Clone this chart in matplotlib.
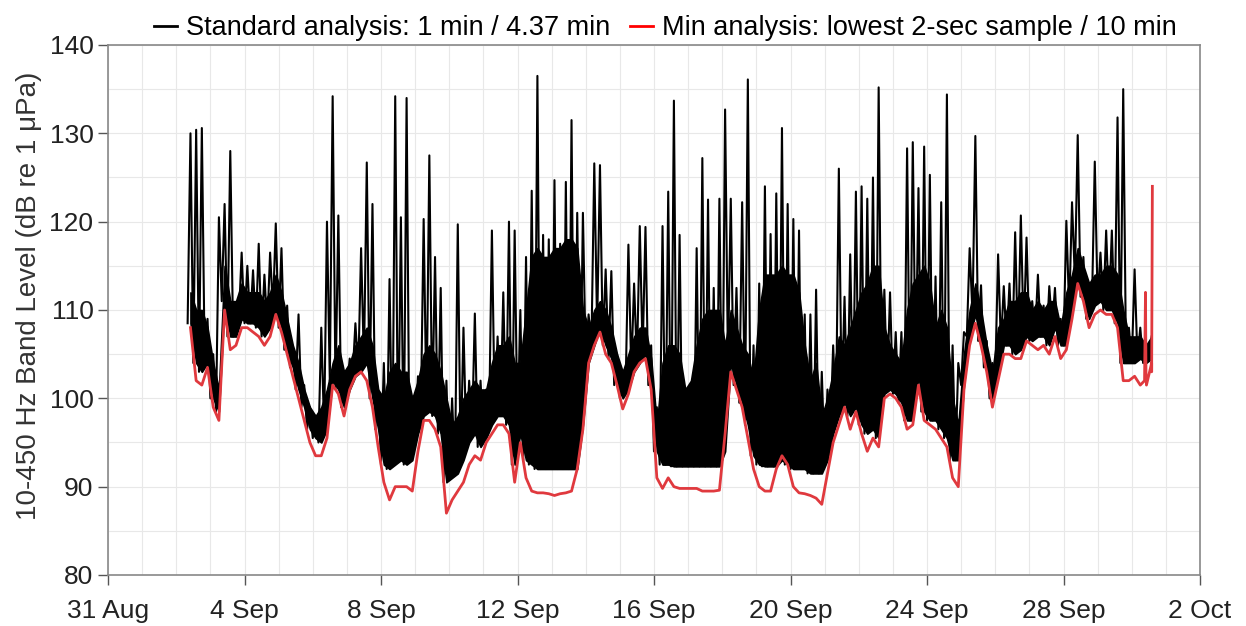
import numpy as np
import pandas as pd
import matplotlib
matplotlib.use("Agg")
import matplotlib.pyplot as plt
import matplotlib.dates as mdates
from matplotlib.lines import Line2D
from matplotlib.ticker import MultipleLocator

# ---------------- data (4-hour bins starting 2 Sep 08:00) ----------------
# Standard analysis: per-bin minimum, top of dense band, and peak
blk_lo = [
    108.5, 104, 103, 104,                 # Sep 2 (08h..)
    100, 98.5, 111, 107, 107, 109,        # Sep 3
    108.5, 108.5, 108, 107, 108, 110,     # Sep 4
    108, 105.5, 103.5, 101, 99, 96.5,     # Sep 5
    95.5, 95, 96.5, 102, 101, 99,         # Sep 6
    101, 102.5, 103, 104, 100, 96.5,      # Sep 7
    92.5, 92, 92.5, 93, 92.5, 93,         # Sep 8
    96, 98, 98.5, 98, 96, 90.5,           # Sep 9
    91, 91.5, 93, 95, 96, 94.5,           # Sep 10
    95.5, 97, 98, 98, 97, 92.5,           # Sep 11
    96, 93, 92.5, 92, 92, 92,             # Sep 12
    92, 92, 92, 92, 92, 97,               # Sep 13
    104, 106, 108, 106, 104.5, 101.5,     # Sep 14
    100, 101, 103, 104, 105, 101.5,       # Sep 15
    94, 92.5, 92.5, 92.3, 92.3, 92.3,     # Sep 16
    92.3, 92.3, 92.3, 92.3, 92.3, 92.3,   # Sep 17
    94, 104, 101.5, 99.5, 97, 93.5,       # Sep 18
    92.5, 92.3, 92.3, 92.3, 93, 92.5,     # Sep 19
    92, 92, 92, 91.5, 91.5, 91.5,         # Sep 20
    93, 96, 98, 99.5, 98, 99,             # Sep 21
    97, 96, 96.5, 95.5, 100.5, 101,       # Sep 22
    100.5, 99.5, 97.5, 97.5, 102.5, 98.5, # Sep 23
    97.5, 97.5, 96.5, 95.5, 93, 93,       # Sep 24
    101.5, 107, 109.5, 106.5, 103.5, 100, # Sep 25
    102.5, 106, 106, 105, 105.5, 107,     # Sep 26
    106.5, 107, 107, 106, 108, 106,       # Sep 27
    106, 110, 113.5, 111.5, 109, 110.5,   # Sep 28
    111, 110, 110, 108.5, 104, 104,       # Sep 29
    104, 104.5, 104, 104.5,               # Sep 30
]
blk_body = [
    112, 110, 110, 108,                   # Sep 2
    104, 101, 115, 111, 111, 113,         # Sep 3
    112, 112, 112, 111, 112, 114,         # Sep 4
    112, 109, 106, 104, 101, 99,          # Sep 5
    98, 99, 101, 104, 106, 103,           # Sep 6
    104, 106, 107, 108, 106, 101,         # Sep 7
    100, 103, 104, 103, 103, 100,         # Sep 8
    102, 105, 106, 105, 103, 100,         # Sep 9
    97, 98, 100, 101, 102, 101,           # Sep 10
    101, 104, 106, 106, 107, 104,         # Sep 11
    104, 110, 116, 117, 116, 116,         # Sep 12
    117, 117, 118, 118, 117, 110,         # Sep 13
    108, 110, 111, 110, 108, 105,         # Sep 14
    103, 105, 107, 108, 108, 104.5,       # Sep 15
    97, 104, 106, 106, 105, 101,          # Sep 16
    102, 106, 109, 110, 110, 110,         # Sep 17
    106, 110, 108, 106, 105, 102,         # Sep 18
    110, 114, 114, 114, 115, 114,         # Sep 19
    114, 112, 106, 102, 104, 98,          # Sep 20
    100, 103, 107, 106, 108, 110,         # Sep 21
    112, 113, 115, 115, 108, 106,         # Sep 22
    105, 104, 110, 113, 114, 115,         # Sep 23
    113, 108, 110, 108, 100, 97,          # Sep 24
    105, 110, 113, 110, 106, 103,         # Sep 25
    108, 109, 111, 111, 112, 112,         # Sep 26
    110, 111, 110, 111, 111, 108,         # Sep 27
    112, 114, 117, 115, 113, 114,         # Sep 28
    114, 115, 115, 114, 110, 107,         # Sep 29
    107, 107, 106, 107,                   # Sep 30
]
blk_peak = [
    130, 130.4, 130.6, 109,
    105, 120.5, 122, 128, 110, 116.5,
    115, 114.5, 117.5, 114, 116.5, 119.8,
    117, 110.5, 105.5, 109.5, 101.5, 99,
    98, 108, 120, 134.2, 120.7, 103,
    104.5, 108.5, 117, 126.7, 122, 101,
    104, 113.5, 134.2, 120.5, 134, 100,
    102.5, 120.3, 127.5, 116, 112.5, 102,
    100, 119.7, 108, 102, 109.6, 102,
    101, 119, 107, 112, 120, 119,
    110, 116, 123.5, 136.5, 118.5, 118,
    124.7, 117.5, 124.5, 131.5, 121, 121,
    109.5, 126.6, 126.4, 114.6, 114.4, 105,
    102.5, 117.4, 113, 119.5, 119.4, 106,
    99, 119.5, 123.4, 133.7, 118.5, 100.5,
    99.5, 117, 127.2, 122.5, 112.5, 122.6,
    132.7, 122.6, 112.5, 122.2, 136.1, 106,
    113, 124, 118.6, 123.2, 130.6, 122,
    120.3, 119, 109.5, 109.5, 112.3, 103,
    101, 106, 126, 111.5, 116.3, 123.4,
    124, 122.6, 125, 135.2, 112.3, 112,
    107.5, 107.5, 128.3, 129, 123.8, 128.5,
    125.3, 113.8, 122.2, 134.4, 106, 104,
    107.5, 117, 129.7, 112.8, 106.5, 104,
    116.3, 112.7, 113, 118.8, 120.7, 118.2,
    111, 114, 110.5, 112.7, 112.5, 109,
    120.1, 122.2, 129.8, 116, 113, 126.8,
    116.5, 119, 119, 131.8, 135, 108,
    114.6, 108, 106, 107,
]
# Min analysis (lowest 2-sec sample / 10 min)
red_vals = [
    108, 102, 101.5, 103.5,
    99, 97.5, 110, 105.5, 106, 108,
    108, 107.5, 107, 106, 107, 109.5,
    107.5, 105, 102.5, 100, 97.5, 95,
    93.5, 93.5, 95.5, 101.5, 100.5, 98,
    101, 102.5, 103, 102, 99, 94.5,
    90.5, 88.5, 90, 90, 90, 89.5,
    94, 97.5, 97.5, 96.5, 94.5, 87,
    88.5, 89.5, 90.5, 92.5, 93.5, 93,
    95, 96, 97, 97, 96, 90.5,
    95, 91, 89.5, 89.3, 89.3, 89.2,
    89, 89.2, 89.3, 89.5, 92, 96.5,
    104, 106, 107.5, 105, 104, 101.5,
    98.8, 100.5, 103, 104, 104.5, 101,
    91, 89.8, 91, 90, 89.8, 89.8,
    89.8, 89.8, 89.5, 89.5, 89.5, 89.6,
    96, 103, 101, 99, 95.5, 92,
    90, 89.5, 89.5, 92, 93.5, 92.5,
    90, 89.3, 89.2, 89, 88.7, 88,
    91.5, 95, 97, 99, 96.5, 98.5,
    96, 94, 95.5, 94.5, 100, 100.5,
    100, 99, 96.5, 97, 101.5, 97.5,
    97, 96.5, 95.5, 94.5, 91, 90,
    101, 106, 108.5, 106, 103, 99,
    102, 105, 105, 104.5, 104.5, 106.5,
    106, 105.5, 106, 105, 107, 104.5,
    105.5, 109, 113, 111, 108, 109.5,
    110, 109.5, 109.5, 108, 102, 102,
    102.5, 101.5, 103, 104,
]
red_extra_times = ["2023-09-30 09:00", "2023-09-30 09:40", "2023-09-30 10:20",
                   "2023-09-30 14:00", "2023-09-30 14:30"]
red_extra_vals = [102, 112, 101.5, 103, 124]

x_tick_labels = ["31 Aug", "4 Sep", "8 Sep", "12 Sep", "16 Sep", "20 Sep",
                 "24 Sep", "28 Sep", "2 Oct"]
y_ticks = [80, 90, 100, 110, 120, 130, 140]

# ---------------- build plot ----------------
plt.rcParams["font.family"] = ["Liberation Sans", "DejaVu Sans"]

start = pd.Timestamp("2023-09-02 08:00")
n = len(blk_lo)
t = pd.date_range(start, periods=n, freq="4h")
half = pd.Timedelta(hours=2)
tc = t + half

zx = np.empty(2 * n, dtype="datetime64[ns]")
zx[0::2] = t.values
zx[1::2] = tc.values
zy = np.empty(2 * n)
zy[0::2] = blk_lo
zy[1::2] = blk_peak

red_t = list(tc) + [pd.Timestamp(s) for s in red_extra_times]
red_v = list(red_vals) + list(red_extra_vals)
red_t = np.array(red_t, dtype="datetime64[ns]")
order = np.argsort(red_t)
red_t = red_t[order]
red_v = np.array(red_v)[order]

fig = plt.figure(figsize=(12.46, 6.26), dpi=100)
ax = fig.add_axes([108 / 1246, 1 - 575 / 626, (1200 - 108) / 1246, (575 - 45) / 626])

ax.fill_between(tc, blk_lo, blk_body, color="black", lw=1.2, zorder=2)
ax.plot(zx, zy, color="black", lw=1.5, zorder=2)
ax.plot(red_t, red_v, color="#E0393E", lw=2.0, zorder=3)

x0 = pd.Timestamp("2023-08-31")
x1 = pd.Timestamp("2023-10-02")
ax.set_xlim(x0, x1)
ax.set_ylim(80, 140)

major = pd.date_range(x0, x1, freq="4D")
ax.set_xticks(major)
ax.set_xticklabels(x_tick_labels)
ax.xaxis.set_minor_locator(mdates.DayLocator())
ax.set_yticks(y_ticks)
ax.yaxis.set_minor_locator(MultipleLocator(5))

ax.grid(True, which="both", color="#e8e8e8", lw=0.8, zorder=0)
ax.set_axisbelow(True)
ax.tick_params(axis="both", which="major", direction="out", length=7,
               width=1, color="#555555", labelsize=19, colors="#222222")
ax.tick_params(axis="both", which="minor", length=0)
ax.tick_params(axis="x", pad=10)
for s in ax.spines.values():
    s.set_color("#888888")
    s.set_linewidth(1.2)

ax.set_ylabel("10-450 Hz Band Level (dB re 1 \u03bcPa)", fontsize=20,
              color="#333333")
ax.yaxis.set_label_coords(-0.060, 0.527)

handles = [Line2D([0], [0], color="black", lw=2),
           Line2D([0], [0], color="red", lw=2)]
labels = ["Standard analysis: 1 min / 4.37 min",
          "Min analysis: lowest 2-sec sample / 10 min"]
fig.legend(handles, labels, loc="upper center", bbox_to_anchor=(0.534, 1.015),
           ncol=2, frameon=False, fontsize=19.5, handlelength=0.85,
           columnspacing=0.7, handletextpad=0.35)

fig.savefig("out.png", dpi=100)
